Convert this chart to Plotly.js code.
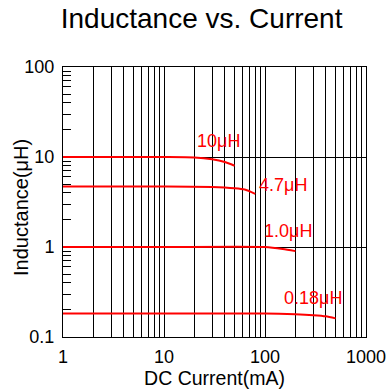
<!DOCTYPE html>
<html>
<head>
<meta charset="utf-8">
<script src="https://cdn.plot.ly/plotly-3.0.1.min.js"></script>
<style>
  html, body { margin: 0; padding: 0; background: #fff; }
  #chart { width: 390px; height: 392px; }
</style>
</head>
<body>
<div id="chart"></div>
<script>
// DC bias curves: current (mA) vs. inductance (uH) for four parts
const curr10u = [1, 10, 20, 30, 40, 50];
const ind10u = [10, 10, 9.9, 9.45, 8.8, 8.0];

const curr4u7 = [1, 10, 30, 50, 63, 80];
const ind4u7 = [4.7, 4.7, 4.65, 4.5, 4.35, 3.9];

const curr1u0 = [1, 10, 100, 150, 200];
const ind1u0 = [1.0, 1.0, 1.0, 0.95, 0.9];

const curr0u18 = [1, 10, 100, 200, 300, 400, 500];
const ind0u18 = [0.182, 0.182, 0.182, 0.179, 0.175, 0.17, 0.161];

const seriesLabels = ['10\u03bcH', '4.7\u03bcH', '1.0\u03bcH', '0.18\u03bcH'];

const xMajor = [1, 10, 100, 1000];
const xMajorText = ['1', '10', '100', '1000'];
const yMajor = [0.1, 1, 10, 100];
const yMajorText = ['0.1', '1', '10', '100'];
const digits = [2, 3, 4, 5, 6, 7, 8, 9];

const xMinor = [];
[1, 10, 100].forEach(d => digits.forEach(k => xMinor.push(d * k)));
const yMinor = [];
[0.1, 1, 10].forEach(d => digits.forEach(k => yMinor.push(+(d * k).toPrecision(3))));

const red = '#ff0000';
const font = 'Liberation Sans, Arial, sans-serif';

const curves = [
  [curr10u, ind10u],
  [curr4u7, ind4u7],
  [curr1u0, ind1u0],
  [curr0u18, ind0u18]
];

const traces = curves.map((c, i) => ({
  x: c[0], y: c[1], name: seriesLabels[i],
  type: 'scatter', mode: 'lines',
  line: { color: red, width: 2, shape: 'spline', smoothing: 0.6 },
  hoverinfo: 'x+y+name'
}));

// label anchors in log10 axis units
const labelPos = [
  [1.535, 1.175],
  [2.178, 0.685],
  [2.228, 0.175],
  [2.475, -0.57]
];

const annotations = seriesLabels.map((t, i) => ({
  text: t, x: labelPos[i][0], y: labelPos[i][1], xref: 'x', yref: 'y',
  showarrow: false, xanchor: 'center', yanchor: 'middle',
  font: { family: font, size: 18, color: red }
}));

// vertical axis title, placed left of the tick labels
annotations.push({
  text: 'Inductance(\u03bcH)', textangle: -90,
  x: 0, y: 0.478, xref: 'paper', yref: 'paper',
  xanchor: 'center', yanchor: 'middle', xshift: -42,
  showarrow: false,
  font: { family: font, size: 20, color: '#000' }
});

const layout = {
  width: 390, height: 392,
  margin: { l: 63, r: 24, t: 67, b: 55 },
  paper_bgcolor: '#fff', plot_bgcolor: '#fff',
  showlegend: false,
  font: { family: font, color: '#000' },
  title: {
    text: 'Inductance vs. Current',
    font: { family: font, size: 28, color: '#000' },
    x: 0.517, xref: 'container', xanchor: 'center',
    y: 0.954, yref: 'container', yanchor: 'middle'
  },
  xaxis: {
    type: 'log', range: [0, 3],
    tickmode: 'array', tickvals: xMajor, ticktext: xMajorText,
    ticks: '', ticklabelstandoff: 3,
    tickfont: { family: font, size: 18, color: '#000' },
    showgrid: true, gridcolor: '#000', gridwidth: 1,
    showline: true, linecolor: '#000', linewidth: 1, mirror: true,
    minor: { tickmode: 'array', tickvals: xMinor, showgrid: true, gridcolor: '#000', gridwidth: 1, ticks: '' },
    title: { text: 'DC Current(mA)', font: { family: font, size: 19.5, color: '#000' }, standoff: 5 },
    automargin: false
  },
  yaxis: {
    type: 'log', range: [-1, 2],
    tickmode: 'array', tickvals: yMajor, ticktext: yMajorText,
    ticks: '', ticklabelstandoff: 4,
    tickfont: { family: font, size: 18, color: '#000' },
    showgrid: true, gridcolor: '#000', gridwidth: 1,
    showline: true, linecolor: '#000', linewidth: 1, mirror: true,
    minor: { tickmode: 'array', tickvals: yMinor, ticks: 'inside', ticklen: 8, tickcolor: '#000', tickwidth: 1, showgrid: false },
    automargin: false
  },
  annotations: annotations
};

Plotly.newPlot('chart', traces, layout, { displayModeBar: false, staticPlot: true });
</script>
</body>
</html>
